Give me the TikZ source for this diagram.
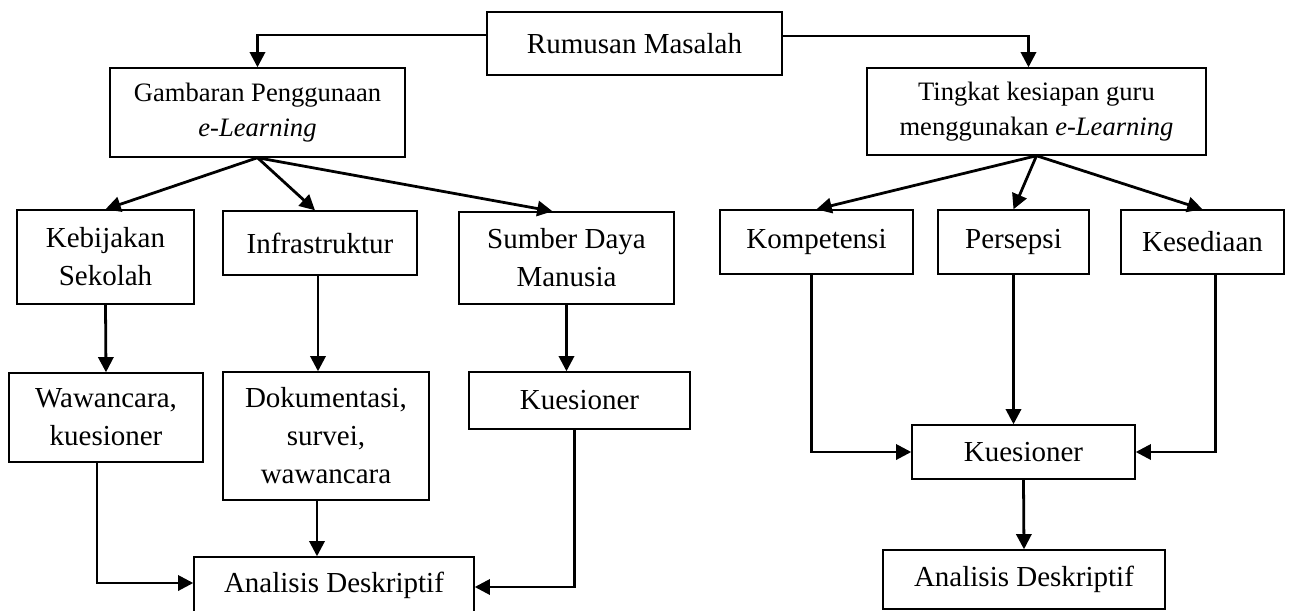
\documentclass[tikz,border=0pt]{standalone}
\usepackage{fontspec}
\setmainfont{Liberation Serif}
\usetikzlibrary{arrows.meta}

\def\pxlen{0.4138pt}

\tikzset{
  box/.style={draw, line width=0.6pt, inner sep=0pt, align=center,
    font=\fontsize{12}{15.7}\selectfont},
  smallbox/.style={box, font=\fontsize{11}{14.5}\selectfont},
  flow/.style={line width=1.15pt, -{Triangle[length=6.3pt,width=6.3pt]}},
}

\begin{document}
\begin{tikzpicture}[x=\pxlen, y=-\pxlen]
        \fill[white] (0,0) rectangle (1296,610);
        \useasboundingbox (0,0) rectangle (1296,610);

        % Top box
        \node (rumusan) [box, minimum width=295*\pxlen, minimum height=63*\pxlen] at (634.5,43.5) {Rumusan Masalah};

        % Second level
        \node (gambaran) [smallbox, minimum width=295*\pxlen, minimum height=89*\pxlen] at (257.5,112.5) {Gambaran Penggunaan\\ \textit{e-Learning}};
        \node (tingkat) [smallbox, minimum width=339*\pxlen, minimum height=87*\pxlen] at (1036.5,111.5) {Tingkat kesiapan guru\\ menggunakan \textit{e-Learning}};

        % Aspects, left side
        \node (kebijakan) [box, minimum width=177*\pxlen, minimum height=94*\pxlen] at (105.5,257) {Kebijakan\\ Sekolah};
        \node (infra) [box, minimum width=194*\pxlen, minimum height=64*\pxlen] at (320,243) {Infrastruktur};
        \node (sdm) [box, minimum width=215*\pxlen, minimum height=92*\pxlen] at (566.5,258) {Sumber Daya\\ Manusia};

        % Aspects, right side
        \node (kompetensi) [box, minimum width=193*\pxlen, minimum height=64*\pxlen] at (816.5,242) {Kompetensi};
        \node (persepsi) [box, minimum width=151*\pxlen, minimum height=64*\pxlen] at (1013.5,242) {Persepsi};
        \node (kesediaan) [box, minimum width=163*\pxlen, minimum height=64*\pxlen] at (1202.5,242) {Kesediaan};

        % Methods
        \node (wawancara) [box, minimum width=194*\pxlen, minimum height=89*\pxlen] at (106,417.5) {Wawancara,\\ kuesioner};
        \node (dokumen) [box, minimum width=206*\pxlen, minimum height=128*\pxlen] at (326,436) {Dokumentasi,\\ survei,\\ wawancara};
        \node (kuesionerA) [box, minimum width=221*\pxlen, minimum height=57*\pxlen] at (579.5,400.5) {Kuesioner};
        \node (kuesionerB) [box, minimum width=223*\pxlen, minimum height=54*\pxlen] at (1023.5,452) {Kuesioner};

        % Analysis
        \node (analisisA) [box, minimum width=280*\pxlen, minimum height=56*\pxlen] at (334,585) {Analisis Deskriptif};
        \node (analisisB) [box, minimum width=282*\pxlen, minimum height=59*\pxlen] at (1024,579.5) {Analisis Deskriptif};

        % Arrows from the top
        \draw[flow] ([yshift=8.5*\pxlen]rumusan.west) -| (gambaran.north);
        \draw[flow] ([yshift=7.5*\pxlen]rumusan.east) -| ([xshift=-8*\pxlen]tingkat.north);

        \draw[flow] (gambaran.south) -- (kebijakan.north);
        \draw[flow] (gambaran.south) -- ([xshift=-5*\pxlen]infra.north);
        \draw[flow] (gambaran.south) -- ([xshift=-14*\pxlen]sdm.north);

        \draw[flow] (tingkat.south) -- (kompetensi.north);
        \draw[flow] (tingkat.south) -- (persepsi.north);
        \draw[flow] (tingkat.south) -- (kesediaan.north);

        % Left column arrows
        \draw[flow] (kebijakan.south) -- (wawancara.north);
        \draw[flow] ([xshift=-2*\pxlen]infra.south) -- ([xshift=-2*\pxlen]infra.south |- dokumen.north);
        \draw[flow] (sdm.south) -- (sdm.south |- kuesionerA.north);
        \draw[flow] ([xshift=-9*\pxlen]wawancara.south) |- ([yshift=2*\pxlen]analisisA.west);
        \draw[flow] ([xshift=-3*\pxlen]infra.south |- dokumen.south) -- ([xshift=-3*\pxlen]infra.south |- analisisA.north);
        \draw[flow] ([xshift=-5*\pxlen]kuesionerA.south) |- ([yshift=-2*\pxlen]analisisA.east);

        % Right column arrows
        \draw[flow] ([xshift=-5*\pxlen]kompetensi.south) |- (kuesionerB.west);
        \draw[flow] (persepsi.south) -- (persepsi.south |- kuesionerB.north);
        \draw[flow] ([xshift=13*\pxlen]kesediaan.south) |- (kuesionerB.east);
        \draw[flow] (kuesionerB.south) -- (analisisB.north);
\end{tikzpicture}
\end{document}
